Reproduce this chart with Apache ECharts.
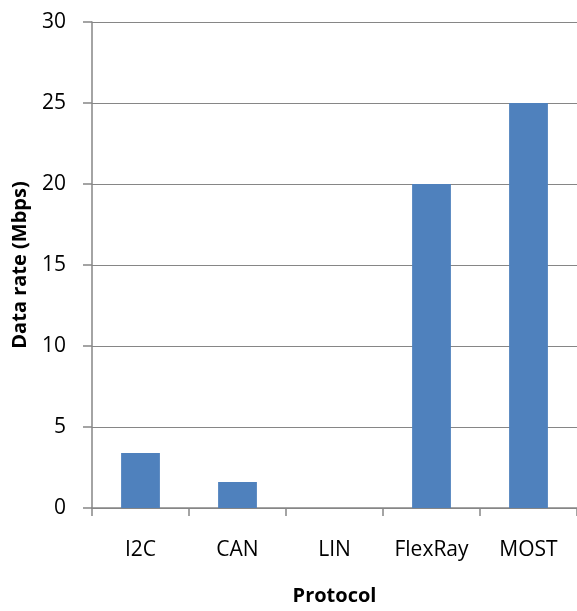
<!DOCTYPE html>
<html><head><meta charset="utf-8">
<script src="https://cdn.jsdelivr.net/npm/echarts@6/dist/echarts.min.js"></script>
<style>html,body{margin:0;padding:0;background:#fff}#c{width:577px;height:611px}</style>
</head><body><div id="c"></div>
<script>
const categories = ['I2C', 'CAN', 'LIN', 'FlexRay', 'MOST'];
const dataRate = [3.4, 1.6, 0, 20, 25];
const yTicks = [0, 5, 10, 15, 20, 25, 30];

const chart = echarts.init(document.getElementById('c'));
const font = '"Open Sans", sans-serif';
chart.setOption({
  animation: false,
  grid: { left: 92, top: 22, width: 488, height: 487, containLabel: false },
  xAxis: {
    type: 'category', data: categories,
    name: 'Protocol', nameLocation: 'middle', nameGap: 78,
    nameTextStyle: { fontFamily: font, fontWeight: 'bold', fontSize: 20, color: '#000' },
    axisLine: { lineStyle: { color: '#868686', width: 1.5 } },
    axisTick: { show: true, length: 8, lineStyle: { color: '#868686', width: 1.5 } },
    axisLabel: { fontFamily: font, fontSize: 21, color: '#000', margin: 32 }
  },
  yAxis: {
    type: 'value', min: yTicks[0], max: yTicks[yTicks.length - 1], interval: 5,
    name: 'Data rate (Mbps)', nameLocation: 'middle', nameGap: 62,
    nameTextStyle: { fontFamily: font, fontWeight: 'bold', fontSize: 20, color: '#000' },
    axisLine: { show: true, lineStyle: { color: '#868686', width: 1.5 } },
    axisTick: { show: true, length: 9, lineStyle: { color: '#868686', width: 1.5 } },
    axisLabel: { fontFamily: font, fontSize: 21, color: '#000', margin: 26 },
    splitLine: { lineStyle: { color: '#868686', width: 1 } }
  },
  series: [{
    type: 'bar', data: dataRate, barWidth: '40%',
    itemStyle: { color: '#4F81BD' }
  }]
});
</script></body></html>
